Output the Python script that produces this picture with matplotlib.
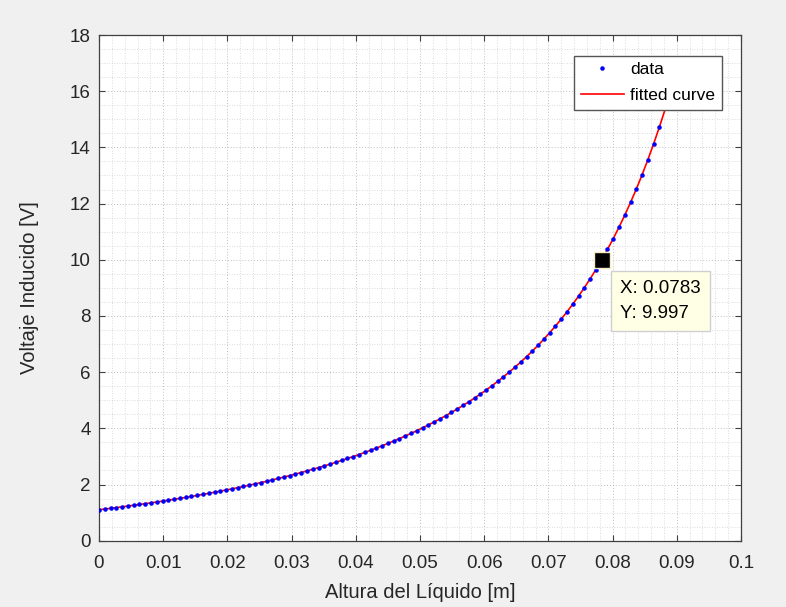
import numpy as np
import matplotlib
matplotlib.use("Agg")
import matplotlib.pyplot as plt
from matplotlib.ticker import MultipleLocator, FuncFormatter

plt.rcParams['font.family'] = ['Liberation Sans', 'DejaVu Sans']

# --- data ---
paso_altura = 0.0009          # spacing of the measured heights [m]
voltaje = [
    1.103, 1.128, 1.153, 1.179, 1.206, 1.233, 1.261, 1.289, 1.318, 1.348,
    1.378, 1.409, 1.441, 1.474, 1.507, 1.541, 1.576, 1.612, 1.649, 1.686,
    1.725, 1.764, 1.804, 1.845, 1.888, 1.931, 1.975, 2.020, 2.067, 2.115,
    2.164, 2.214, 2.265, 2.318, 2.372, 2.427, 2.484, 2.542, 2.602, 2.663,
    2.726, 2.791, 2.857, 2.926, 2.996, 3.068, 3.142, 3.219, 3.297, 3.378,
    3.461, 3.547, 3.635, 3.726, 3.819, 3.916, 4.016, 4.119, 4.225, 4.335,
    4.448, 4.566, 4.687, 4.813, 4.943, 5.078, 5.218, 5.363, 5.514, 5.670,
    5.833, 6.002, 6.178, 6.361, 6.552, 6.751, 6.959, 7.176, 7.403, 7.640,
    7.888, 8.148, 8.421, 8.706, 9.006, 9.321, 9.652, 9.997, 10.367, 10.753,
    11.160, 11.589, 12.043, 12.522, 13.028, 13.564, 14.131, 14.732,
]
# fitted curve continues beyond the last measurement up to x = 0.09
curva_extra = [15.369, 16.044, 16.762]

tip_x = 0.0783
tip_y = 9.997

x_ticks = [0, 0.01, 0.02, 0.03, 0.04, 0.05, 0.06, 0.07, 0.08, 0.09, 0.1]
y_ticks = [0, 2, 4, 6, 8, 10, 12, 14, 16, 18]

altura = np.round(np.arange(len(voltaje)) * paso_altura, 4)
curva_y = np.array(voltaje + curva_extra)
curva_x = np.round(np.arange(len(curva_y)) * paso_altura, 4)

# --- figure ---
W, H = 786, 607
fig = plt.figure(figsize=(W / 100, H / 100), dpi=100, facecolor='#f0f0f0')
L, R, T, B = 99, 741, 35, 540.7
ax = fig.add_axes([L / W, 1 - B / H, (R - L) / W, (B - T) / H])
ax.set_facecolor('white')

ax.plot(altura, voltaje, linestyle='none', marker='.', color='#0000ff',
        markersize=4.5, label='data', zorder=3)
ax.plot(curva_x, curva_y, color='#ff0000', linewidth=1.2,
        label='fitted curve', zorder=2)

ax.set_xlim(0, 0.1)
ax.set_ylim(0, 18)
ax.set_xticks(x_ticks)
ax.set_yticks(y_ticks)
ax.xaxis.set_major_formatter(FuncFormatter(lambda v, p: f"{v:g}"))
ax.xaxis.set_minor_locator(MultipleLocator(0.002))
ax.yaxis.set_minor_locator(MultipleLocator(0.5))

spine_col = '#404040'
for s in ax.spines.values():
    s.set_color(spine_col)
    s.set_linewidth(0.9)

ax.tick_params(which='major', direction='in', length=4.5, width=0.8,
               color=spine_col, labelcolor='#262626', labelsize=13.5,
               top=True, right=True)
ax.tick_params(axis='x', which='major', pad=10)
ax.tick_params(axis='y', which='major', pad=6)
ax.tick_params(which='minor', length=0, top=True, right=True)

ax.grid(True, which='major', color='#bfbfbf', linestyle=(0, (1, 2)), linewidth=0.7)
ax.grid(True, which='minor', color='#d0d0d0', linestyle=(0, (1, 2)), linewidth=0.6)
ax.set_axisbelow(True)

ax.set_xlabel('Altura del Líquido [m]', fontsize=14.5, color='#262626', labelpad=8)
ax.set_ylabel('Voltaje Inducido [V]', fontsize=14.5, color='#262626', labelpad=22)

leg = ax.legend(loc='upper right', bbox_to_anchor=((721.7 - L) / (R - L), (B - 55.7) / (B - T)),
                borderaxespad=0, fontsize=12.5, frameon=True, fancybox=False,
                handlelength=2.5, handletextpad=0.35, borderpad=0.38,
                labelspacing=0.62, markerscale=1.0)
leg.get_frame().set_edgecolor('#555555')
leg.get_frame().set_linewidth(1.0)
leg.get_frame().set_facecolor('white')
leg.get_frame().set_alpha(1.0)
leg.set_zorder(10)

# data tip
ax.plot([tip_x], [tip_y], marker='s', markersize=11, color='black',
        markeredgecolor='#f5efc0', markeredgewidth=1.0, zorder=6, clip_on=False)
ax.annotate(f"X: {tip_x:g}\nY: {tip_y:g}", xy=(tip_x, tip_y),
            xytext=(13.5, -14.5), textcoords='offset points',
            ha='left', va='top', fontsize=13.5, color='black', linespacing=1.6,
            bbox=dict(boxstyle='square,pad=0.48', facecolor='#ffffe6',
                      edgecolor='#cfcfcf', linewidth=1.0),
            zorder=7)

fig.savefig('out.png', dpi=100, facecolor=fig.get_facecolor())
